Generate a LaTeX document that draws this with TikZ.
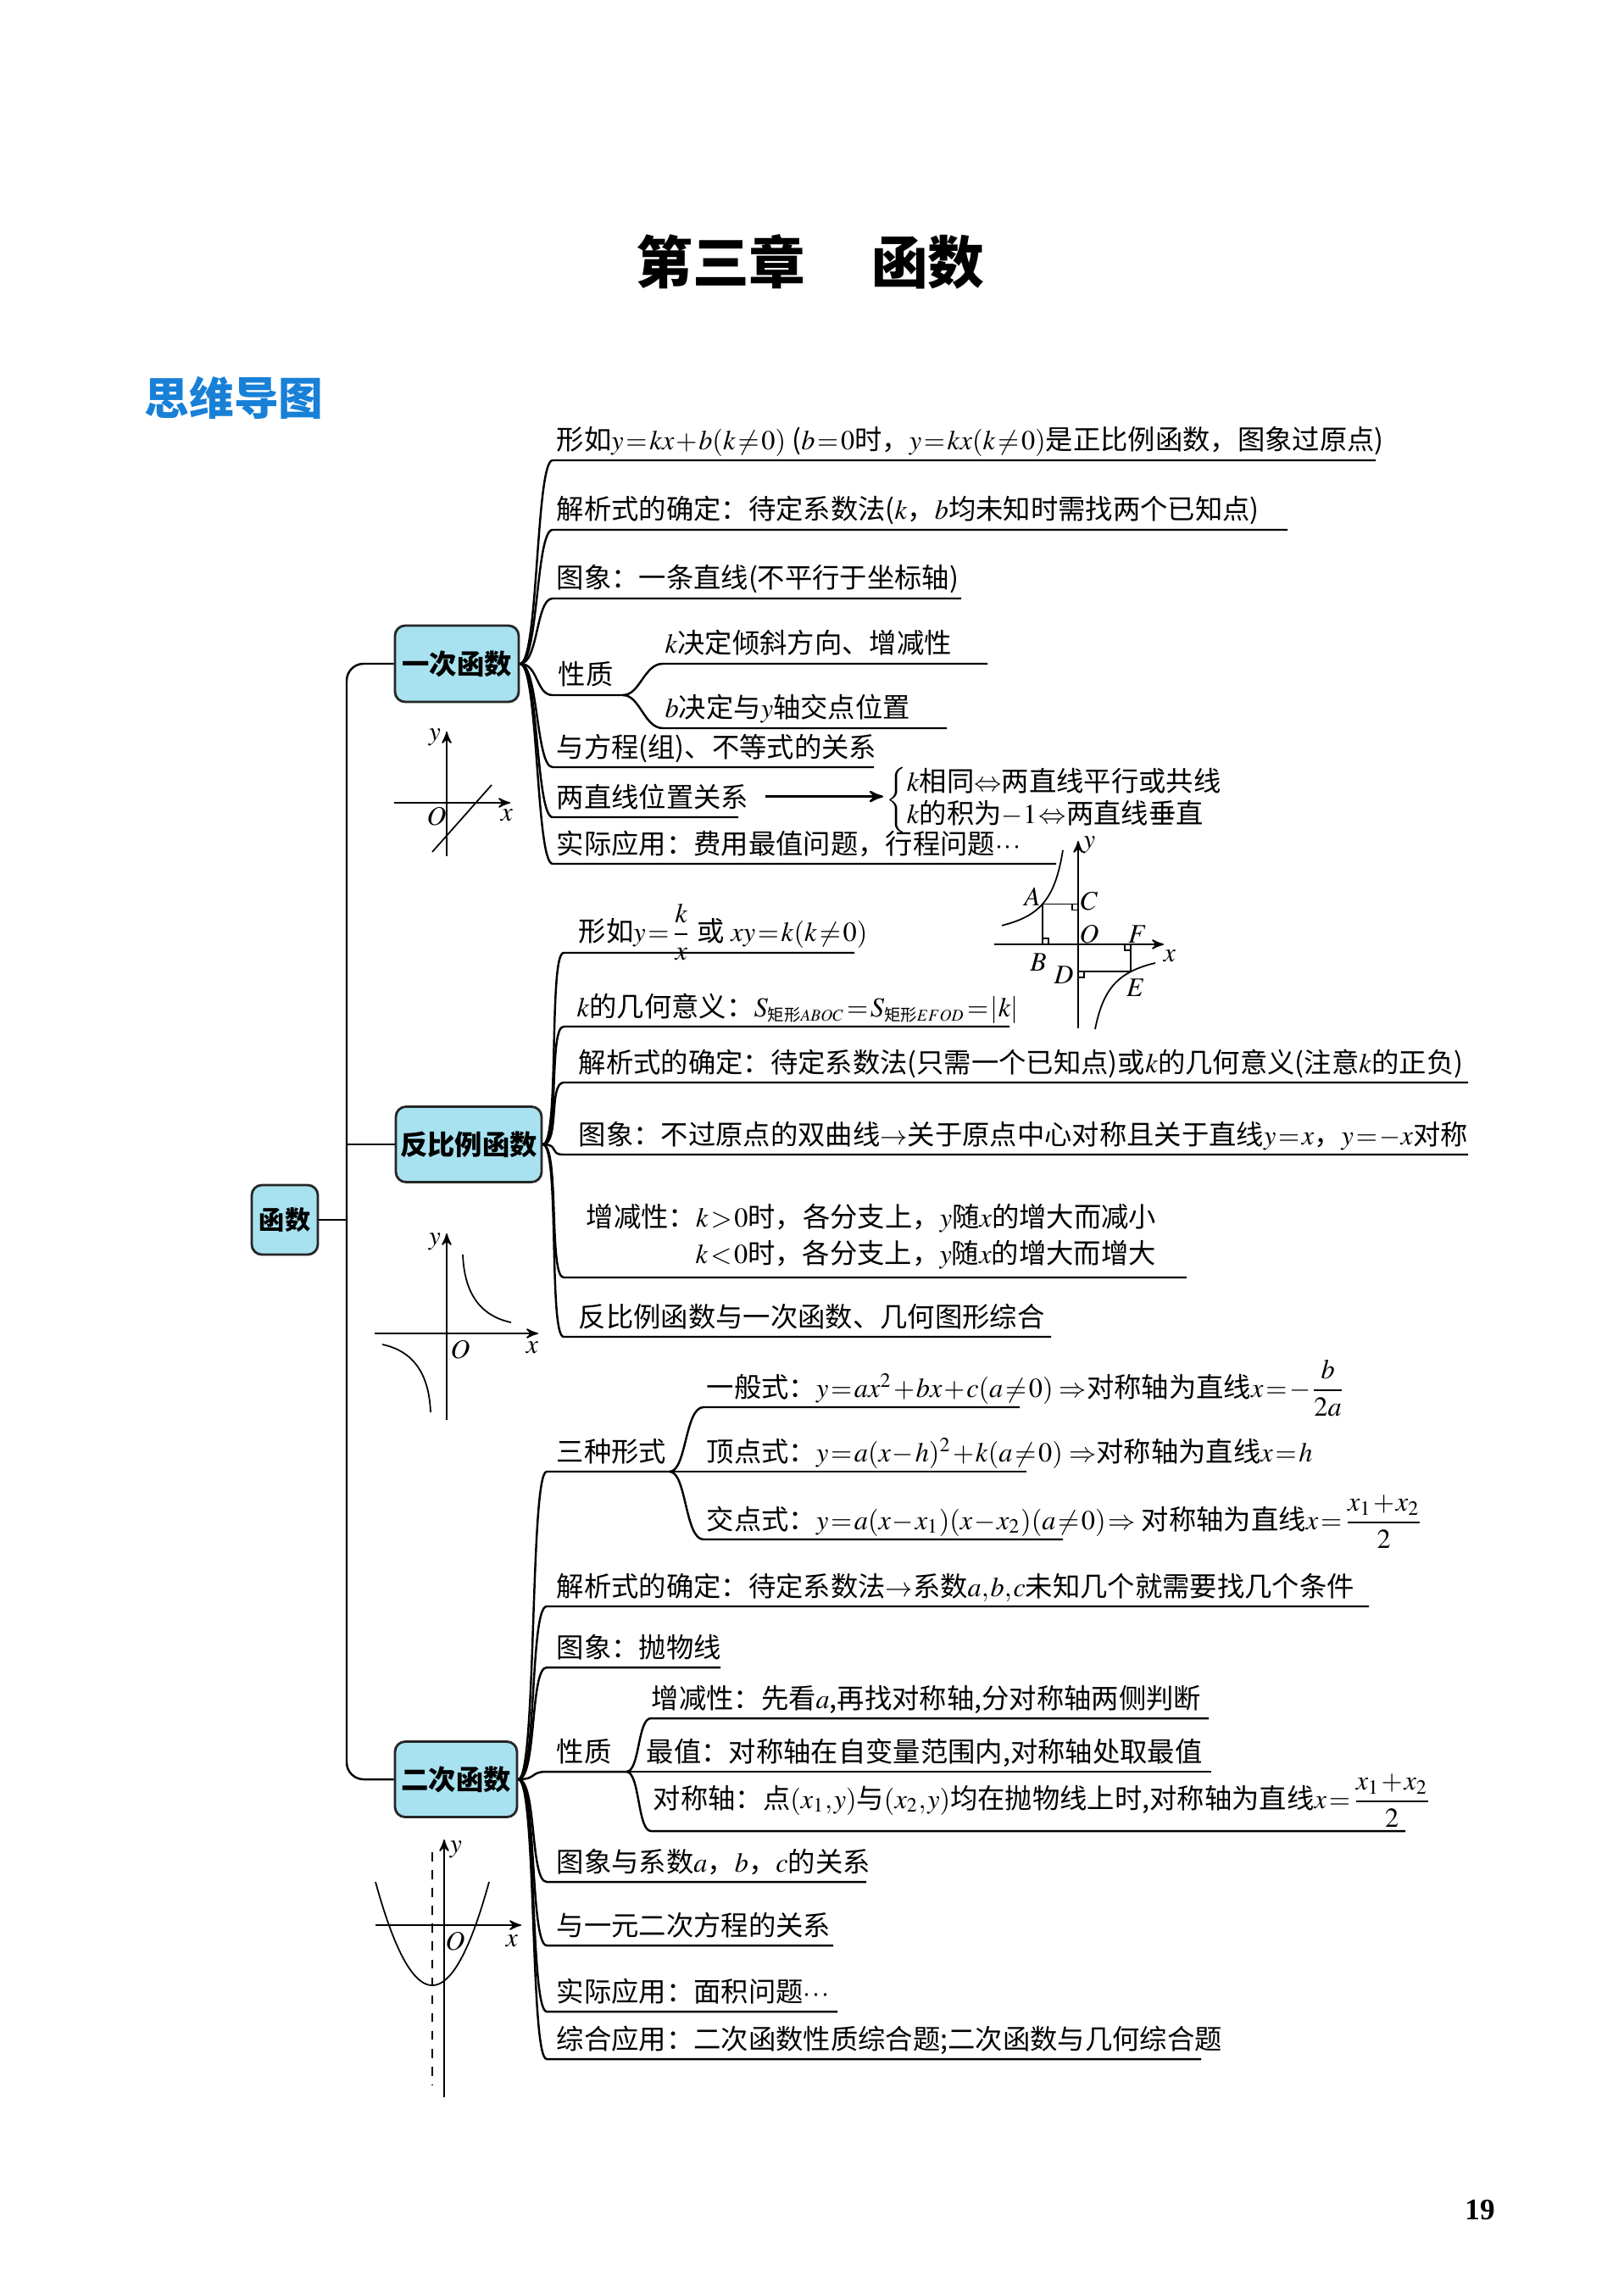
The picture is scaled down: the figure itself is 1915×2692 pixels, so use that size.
\documentclass[tikz,border=0pt]{standalone}
\usepackage{amsmath}
\usepackage{mathptmx}
\usepackage[no-math]{fontspec}
\setmainfont{Noto Sans CJK SC}
\newfontfamily\numfont{Liberation Serif}
\usetikzlibrary{arrows,positioning}
\definecolor{boxblue}{RGB}{168,226,240}
\definecolor{headblue}{RGB}{24,128,214}
\newcommand\tightmath{\thickmuskip=1.5mu\medmuskip=1mu\thinmuskip=1mu}
\tikzset{headbox/.style={draw=black!85,line width=0.8pt,rounded corners=1.2mm,fill=boxblue,inner sep=0pt,font=\bfseries\fontsize{9.2pt}{11pt}\selectfont},
         txt/.style={anchor=base west,inner sep=0pt,font=\fontsize{9.2pt}{11pt}\selectfont\tightmath},
         branch/.style={line width=0.7pt},
         axis/.style={->,line width=0.5pt},
         graph/.style={line width=0.5pt},
         lbl/.style={inner sep=0pt,font=\fontsize{9pt}{10pt}\selectfont},
}

\begin{document}
\begin{tikzpicture}[x=0.1mm,y=-0.1mm,>=stealth']
\useasboundingbox (0,0) rectangle (1915,2692);
% headings
\node[font=\bfseries\fontsize{19pt}{22pt}\selectfont] (title) at (956,309) {第三章\hspace{1.16em}函数};
\node[font=\bfseries\fontsize{15pt}{18pt}\selectfont,text=headblue] (mind) at (276,469) {思维导图};
\node[font=\numfont\bfseries\fontsize{10pt}{12pt}\selectfont] (page) at (1746,2607) {19};

% boxes and trunk
\node[headbox,minimum width=7.8mm,minimum height=8.2mm,font=\bfseries\fontsize{8.6pt}{10pt}\selectfont] (root) at (336,1439) {函数};
\node[headbox,minimum width=14.6mm,minimum height=9mm] (lin) at (539,783) {一次函数};
\node[headbox,minimum width=17.2mm,minimum height=8.9mm] (inv) at (553,1350) {反比例函数};
\node[headbox,minimum width=14.4mm,minimum height=8.9mm] (quad) at (538,2099) {二次函数};
\coordinate (tk) at (409,1439);
\draw[branch] (root) -- (tk);
\draw[branch,rounded corners=2mm] (lin.west) -- (lin.west -| tk) -- (quad.west -| tk) -- (quad.west);
\draw[branch] (inv.west) -- (inv.west -| tk);

% underline ends: name/start/end/y
\foreach \n/\xa/\xb/\y in {l1/652/1623/543, l2/652/1519/625, l3/652/1134/706, l4/652/735/820,
    l4a/782/1165/783, l4b/782/1117/859, l5/652/1031/905, l6/652/871/964, l7/652/1246/1019,
    i1/665/1008/1124, i2/665/1191/1211, i3/665/1732/1277, i4/665/1732/1362, i5/665/1400/1507, i6/665/1240/1577,
    q1/645/790/1736, q1a/830/1203/1660, q1b/790/1211/1736, q1c/830/1254/1816, q2/645/1615/1895,
    q3/645/850/1967, q4/645/739/2090, q4a/768/1426/2027, q4b/739/1429/2090, q4c/768/1658/2160,
    q5/645/1022/2220, q6/645/983/2295, q7/645/988/2373, q8/645/1417/2429}
  {\coordinate (\n s) at (\xa,\y); \coordinate (\n e) at (\xb,\y);}

% 一次函数
\foreach \n in {l1,l2,l3,l4,l5,l6,l7}
  \draw[branch] (lin.east) .. controls +(22,0) and +(-20,0) .. (\n s) -- (\n e);
\foreach \n in {l4a,l4b}
  \draw[branch] (l4e) .. controls +(20,0) and +(-22,0) .. (\n s) -- (\n e);
\node[txt] (l1) at (656,531) {形如$y=kx+b(k\neq0)$\ ($b=0$时，$y=kx(k\neq0)$是正比例函数，图象过原点)};
\node[txt] (l2) at (656,613) {解析式的确定：待定系数法($k$，$b$均未知时需找两个已知点)};
\node[txt] (l3) at (656,694) {图象：一条直线(不平行于坐标轴)};
\node[txt] (l4) at (658,808) {性质};
\node[txt] (l4a) at (784,771) {$k$决定倾斜方向、增减性};
\node[txt] (l4b) at (784,847) {$b$决定与$y$轴交点位置};
\node[txt] (l5) at (656,893) {与方程(组)、不等式的关系};
\node[txt] (l6) at (656,952) {两直线位置关系};
\node[txt,anchor=west,font=\fontsize{9.2pt}{10.2pt}\selectfont\tightmath] (rel) at (1045,944)
  {$\left\{\begin{tabular}{@{}l@{}}$k$相同$\Leftrightarrow$两直线平行或共线\\$k$的积为$-1\Leftrightarrow$两直线垂直\end{tabular}\right.$};
\draw[->,branch,shorten <=1.9mm,shorten >=0.3mm] (l6.east) -- (l6.east -| rel.west);
\node[txt] (l7) at (656,1007) {实际应用：费用最值问题，行程问题$\cdots$};

% 反比例函数
\foreach \n in {i1,i2,i3,i4,i5,i6}
  \draw[branch] (inv.east) .. controls +(20,0) and +(-18,0) .. (\n s) -- (\n e);
\node[txt] (i1) at (682,1110) {形如$y=\dfrac{k}{x}$\ 或\ $xy=k(k\neq0)$};
\node[txt] (i2) at (680,1199) {$k$的几何意义：$S_{\scriptscriptstyle\text{矩形}ABOC}=S_{\scriptscriptstyle\text{矩形}EFOD}=|k|$};
\node[txt] (i3) at (682,1265) {解析式的确定：待定系数法(只需一个已知点)或$k$的几何意义(注意$k$的正负)};
\node[txt] (i4) at (682,1350) {图象：不过原点的双曲线$\rightarrow$关于原点中心对称且关于直线$y=x$，$y=-x$对称};
\node[txt] (i5a) at (691,1447) {增减性：$k>0$时，各分支上，$y$随$x$的增大而减小};
\node[txt] (i5b) at (820,1490) {$k<0$时，各分支上，$y$随$x$的增大而增大};
\node[txt] (i6) at (682,1565) {反比例函数与一次函数、几何图形综合};

% 二次函数
\foreach \n in {q1,q2,q3,q4,q5,q6,q7,q8}
  \draw[branch] (quad.east) .. controls +(22,0) and +(-20,0) .. (\n s) -- (\n e);
\foreach \n in {q1a,q1c}
  \draw[branch] (q1e) .. controls +(20,0) and +(-22,0) .. (\n s) -- (\n e);
\foreach \n in {q4a,q4c}
  \draw[branch] (q4e) .. controls +(16,0) and +(-16,0) .. (\n s) -- (\n e);
\draw[branch] (q1bs) -- (q1be);
\draw[branch] (q4bs) -- (q4be);
\node[txt] (q1) at (656,1724) {三种形式};
\node[txt] (q1a) at (833,1648) {一般式：$y=ax^2+bx+c(a\neq0)$\ $\Rightarrow$对称轴为直线$x=-\dfrac{b}{2a}$};
\node[txt] (q1b) at (833,1724) {顶点式：$y=a(x-h)^2+k(a\neq0)$\ $\Rightarrow$对称轴为直线$x=h$};
\node[txt] (q1c) at (833,1804) {交点式：$y=a(x-x_1)(x-x_2)(a\neq0)\Rightarrow$\ 对称轴为直线$x=\dfrac{x_1+x_2}{2}$};
\node[txt] (q2) at (656,1883) {解析式的确定：待定系数法$\rightarrow$系数$a,b,c$未知几个就需要找几个条件};
\node[txt] (q3) at (656,1955) {图象：抛物线};
\node[txt] (q4) at (656,2078) {性质};
\node[txt] (q4a) at (768,2015) {增减性：先看$a$,再找对称轴,分对称轴两侧判断};
\node[txt] (q4b) at (762,2078) {最值：对称轴在自变量范围内,对称轴处取最值};
\node[txt] (q4c) at (770,2133) {对称轴：点$(x_1,y)$与$(x_2,y)$均在抛物线上时,对称轴为直线$x=\dfrac{x_1+x_2}{2}$};
\node[txt] (q5) at (656,2208) {图象与系数$a$，$b$，$c$的关系};
\node[txt] (q6) at (656,2283) {与一元二次方程的关系};
\node[txt] (q7) at (656,2361) {实际应用：面积问题$\cdots$};
\node[txt] (q8) at (656,2417) {综合应用：二次函数性质综合题;二次函数与几何综合题};

% graph of a line
\draw[axis] (465,947) -- (602,947);
\draw[axis] (527,1010) -- (527,863);
\draw[graph] (510,1005) -- (580,926);
\node[lbl] (ly1) at (513,870) {$y$};
\node[lbl] (lo1) at (515,963) {$O$};
\node[lbl] (lx1) at (598,962) {$x$};

% graph of y=k/x
\draw[axis] (442,1573) -- (635,1573);
\draw[axis] (527,1675) -- (527,1455);
\draw[graph] (546,1480) .. controls (548,1530) and (570,1553) .. (603,1560);
\draw[graph] (508,1666) .. controls (506,1616) and (484,1593) .. (451,1586);
\node[lbl] (ly2) at (513,1465) {$y$};
\node[lbl] (lo2) at (543,1592) {$O$};
\node[lbl] (lx2) at (628,1590) {$x$};

% rectangles under the hyperbola
\begin{scope}[shift={(1272,1114)},yscale=-1]
  \draw[axis] (-99,0) -- (101,0);
  \draw[axis] (0,-99) -- (0,122);
  \draw[graph,domain=-90:-18,samples=40,smooth] plot (\x,{-2000/\x});
  \draw[graph,domain=20:91,samples=40,smooth] plot (\x,{-2000/\x});
  \coordinate (A) at (-42,47.62);
  \coordinate (B) at (-42,0);
  \coordinate (C) at (0,47.62);
  \coordinate (E) at (62,-32.26);
  \coordinate (F) at (62,0);
  \coordinate (D) at (0,-32.26);
  \draw[graph] (B) -- (A) -- (C);
  \draw[graph] (F) -- (E) -- (D);
  \draw[graph] (-7,47.62) -- (-7,40.62) -- (0,40.62);
  \draw[graph] (-35,0) -- (-35,7) -- (-42,7);
  \draw[graph] (55,0) -- (55,-7) -- (62,-7);
  \draw[graph] (7,-32.26) -- (7,-39.26) -- (0,-39.26);
  \node[lbl] (lA) at (-54,56) {$A$};
  \node[lbl] (lC) at (13,51) {$C$};
  \node[lbl] (lO) at (13,12) {$O$};
  \node[lbl] (lF) at (70,12) {$F$};
  \node[lbl] (lx3) at (108,-14) {$x$};
  \node[lbl] (lB) at (-47,-21) {$B$};
  \node[lbl] (lD) at (-17,-36) {$D$};
  \node[lbl] (lE) at (68,-51) {$E$};
  \node[lbl] (ly3) at (13,117) {$y$};
\end{scope}

% parabola
\draw[axis] (443,2271) -- (615,2271);
\draw[axis] (524,2474) -- (524,2170);
\draw[graph,dashed] (510,2185) -- (510,2460);
\begin{scope}[shift={(510,2342)},yscale=-1]
  \draw[graph,domain=-67:67,samples=50,smooth] plot (\x,{0.02718*\x*\x});
\end{scope}
\node[lbl] (ly4) at (538,2182) {$y$};
\node[lbl] (lo4) at (537,2290) {$O$};
\node[lbl] (lx4) at (604,2290) {$x$};
\end{tikzpicture}
\end{document}
